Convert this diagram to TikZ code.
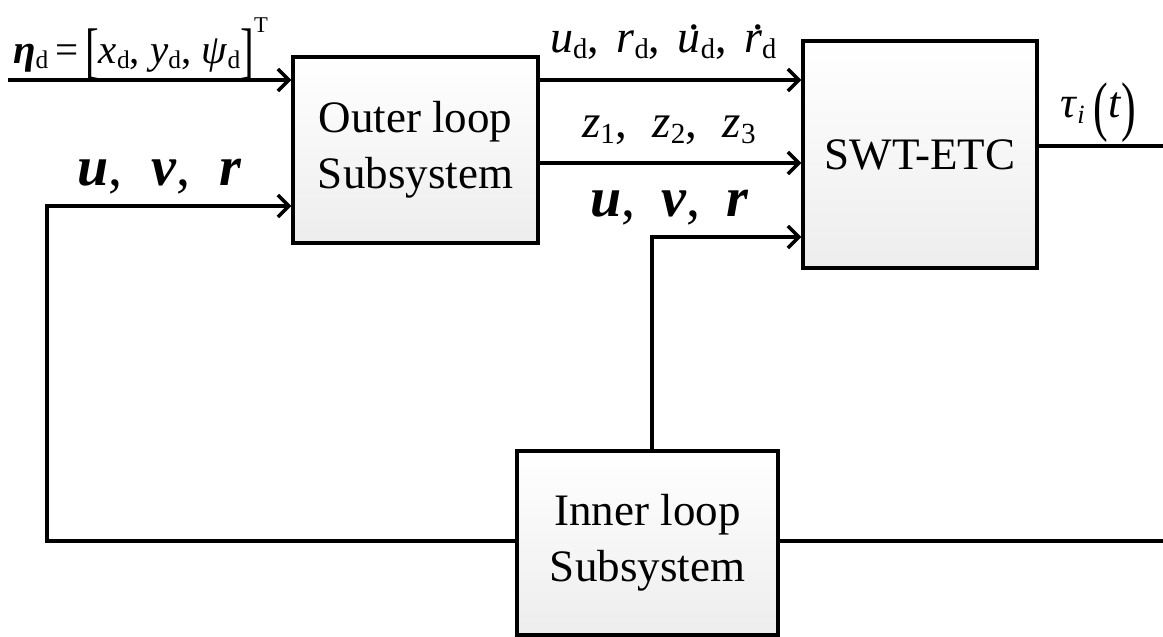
\documentclass[tikz,border=0pt]{standalone}
\usepackage{graphicx}
\usepackage{fontspec}
\setmainfont{Liberation Serif}
\usetikzlibrary{arrows.meta}
\newcommand\sd[1]{\raisebox{-0.3ex}{\fontsize{0.62em}{0.62em}\selectfont\upshape #1}}
\newcommand\bigbr[2]{\raisebox{#2}{\scalebox{1}[1.5]{#1}}}
\newcommand\dotit[1]{\ooalign{\textit{#1}\cr\hidewidth\raisebox{0.5em}{\kern0.22em\textup{.}}\hidewidth\cr}}
\tikzset{
  blk/.style={draw, line width=3.5pt, top color=white, bottom color=black!7, align=center, font=\fontsize{45}{56}\selectfont, inner sep=0pt},
  wire/.style={line width=3.5pt, line join=miter},
  arr/.style={wire, -{Straight Barb[length=11pt, width=22pt, line width=3.5pt]}},
  lbl/.style={inner sep=0pt, anchor=base west},
}
\begin{document}
\begin{tikzpicture}[x=1pt, y=-1pt]
\useasboundingbox (0,0) rectangle (1163,637);
% blocks
\node[blk, minimum width=245pt, minimum height=186pt] (outer) at (415.5,150) {Outer loop\\Subsystem};
\node[blk, minimum width=234pt, minimum height=227pt] (swt) at (920,154.5) {SWT-ETC};
\node[blk, minimum width=261pt, minimum height=184pt] (inner) at (647.5,543) {Inner loop\\Subsystem};
% helper coordinates
\coordinate (in0) at (8,80);
\coordinate (f1) at (47,206);
\coordinate (fb) at (47,541);
\coordinate (a1) at (600,80);
\coordinate (a2) at (600,163);
\coordinate (v1) at (652,237);
\coordinate (o1) at (1168,146);
\coordinate (o2) at (1168,541);
% connectors
\draw[arr] (in0) -- (in0 -| outer.west);
\draw[arr] (inner.west |- fb) -- (fb) -- (f1) -- (f1 -| outer.west);
\draw[arr] (outer.east |- a1) -- (swt.west |- a1);
\draw[arr] (outer.east |- a2) -- (swt.west |- a2);
\draw[arr] (v1 |- inner.north) -- (v1) -- (v1 -| swt.west);
\draw[wire] (swt.east |- o1) -- (o1) -- (o2) -- (o2 -| inner.east);
% labels
\node[lbl, font=\fontsize{41}{41}\selectfont] (leta) at (13,63)
  {\textbf{\textit{η}}\sd{d}\,=\,\bigbr{[}{-0.2em}\textit{x}\sd{d}, \textit{y}\sd{d}, \textit{ψ}\sd{d}\bigbr{]}{-0.2em}\raisebox{0.75em}{\fontsize{0.55em}{0.55em}\selectfont T}};
\node[lbl, font=\fontsize{46}{46}\selectfont] (lud) at (550,52)
  {\textit{u}\sd{d},\hspace{6pt} \textit{r}\sd{d},\hspace{6pt} \dotit{u}\sd{d},\hspace{6pt} \dotit{r}\sd{d}};
\node[lbl, font=\fontsize{47}{47}\selectfont] (lz) at (582,137)
  {\textit{z}\sd{1},\hspace{14pt} \textit{z}\sd{2},\hspace{14pt} \textit{z}\sd{3}};
\node[lbl, font=\fontsize{56}{56}\selectfont] (luvr2) at (590,216)
  {\textbf{\textit{u}},\hspace{12pt} \textbf{\textit{v}},\hspace{12pt} \textbf{\textit{r}}};
\node[lbl, font=\fontsize{56}{56}\selectfont] (luvr1) at (77,185)
  {\textbf{\textit{u}},\hspace{15pt} \textbf{\textit{v}},\hspace{15pt} \textbf{\textit{r}}};
\node[lbl, font=\fontsize{44}{44}\selectfont] (ltau) at (1060,117)
  {\textit{τ}\raisebox{-0.3ex}{\fontsize{0.6em}{0.6em}\selectfont\textit{i}}\hspace{9pt}\bigbr{(}{-0.25em}\textit{t}\bigbr{)}{-0.25em}};
\end{tikzpicture}
\end{document}
